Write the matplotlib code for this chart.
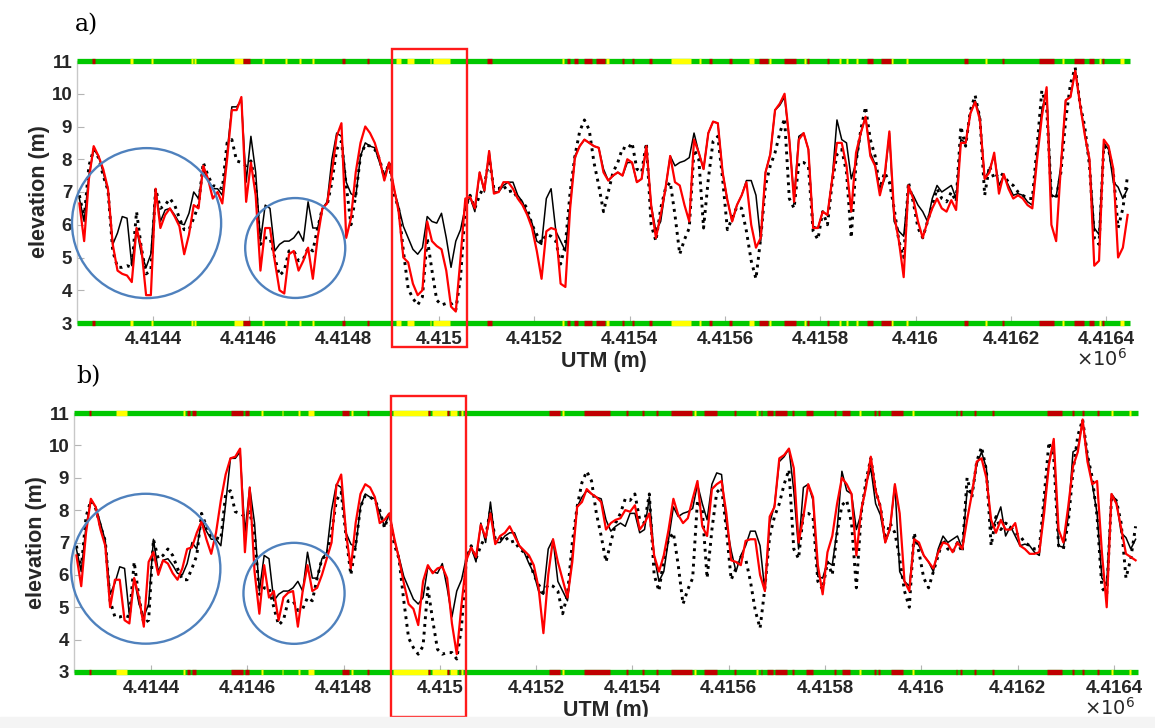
import numpy as np
import matplotlib.pyplot as plt
from matplotlib.patches import Ellipse, Rectangle

plt.rcParams['font.family'] = ['Liberation Sans', 'DejaVu Sans']

# elevation profile sampled every 10 m along the transect (UTM, m)
utm = 4414245 + 10 * np.arange(221)

# dotted reference surface (same in both panels)
reference = [
    6.9, 6.2, 7.8, 8.3, 8.05, 7.5, 7.05, 5.2, 4.7, 4.7,
    4.75, 4.7, 6.4, 5.3, 4.5, 4.6, 7.1, 6.5, 6.6, 6.8,
    6.6, 6.2, 5.85, 5.85, 6.2, 6.6, 7.9, 7.5, 7.2, 7.15,
    7.1, 8.5, 8.6, 7.95, 7.9, 7.8, 7.95, 7.2,
    5.4, 5.6, 5.6, 5.0, 4.45, 4.6, 5.2, 5.2, 4.9, 4.95,
    5.3, 5.2, 5.9, 6.5, 6.6, 7.3, 8.3, 8.55, 7.2, 6.0,
    6.9, 8.1, 8.45, 8.4, 8.3, 8.0, 7.45, 7.9,
    6.95, 6.5, 5.2, 4.05, 3.75, 3.55, 3.8, 5.6, 4.6, 3.7,
    3.55, 3.6, 3.6, 3.4, 4.4, 6.5, 6.9,
    6.5, 6.9, 7.2, 8.0, 7.1, 7.1, 7.2, 7.0, 7.05, 6.8,
    6.7, 6.5, 6.0, 5.7, 5.45, 5.7, 5.65, 5.5, 4.8, 5.4,
    7.0, 8.1, 8.85, 9.2, 8.9, 7.9, 7.2, 6.4,
    7.0, 7.6, 7.9, 8.35, 8.3, 8.5, 7.7, 7.6, 8.5, 6.0,
    5.5, 6.5, 7.1, 7.3, 6.3, 5.1, 5.55, 5.9, 8.3, 8.0,
    5.9, 7.4, 8.55, 8.7, 7.4, 5.85, 6.2, 6.55, 6.5, 5.8,
    4.9, 4.35, 5.6, 7.2, 7.8, 8.2, 8.8,
    9.25, 6.8, 6.5, 7.9, 7.9, 7.8, 5.8, 5.55, 6.4, 6.0,
    7.3, 8.15, 8.3, 7.6, 5.6, 7.9, 8.9, 9.6, 8.6, 8.1,
    7.1, 7.6, 7.3, 6.5, 5.5, 5.0, 7.3, 6.7, 5.9, 5.6,
    6.1, 6.6, 7.1, 6.8, 6.7, 7.0,
    6.7, 9.0, 8.4, 9.5, 9.95, 9.25, 6.9, 7.8, 7.4, 7.6,
    7.5, 7.3, 7.2, 7.0, 6.9, 6.8, 6.8, 8.4, 10.1, 9.6,
    6.9, 6.8, 7.6, 9.2, 10.3, 10.8, 9.7, 9.0, 7.8, 5.6,
    5.4, 8.4, 8.3, 7.6, 5.9, 6.5, 7.5,
]

# solid black estimate (same in both panels)
black = [
    6.8, 6.1, 7.5, 8.3, 8.1, 7.6, 7.05, 5.4, 5.75, 6.25,
    6.2, 4.75, 5.9, 5.1, 4.7, 5.1, 7.1, 6.1, 6.45, 6.5,
    6.3, 6.05, 6.0, 6.35, 7.0, 6.8, 7.7, 7.35, 7.1, 7.1,
    6.9, 8.2, 9.6, 9.6, 9.8, 7.3, 8.7, 7.6,
    5.5, 6.6, 6.5, 5.2, 5.4, 5.5, 5.5, 5.6, 5.8, 5.5,
    6.7, 5.9, 5.9, 6.5, 6.7, 8.0, 8.8, 8.7, 7.3, 6.95,
    6.85, 8.1, 8.5, 8.4, 8.35, 7.9, 7.5, 7.9,
    7.1, 6.55, 5.95, 5.6, 5.25, 5.1, 5.3, 6.25, 6.1, 6.05,
    6.35, 5.6, 4.7, 5.5, 5.85, 6.55, 6.85,
    6.4, 7.6, 7.0, 8.25, 7.0, 7.0, 7.2, 7.3, 7.3, 6.9,
    6.7, 6.35, 6.05, 5.5, 5.4, 6.8, 7.1, 5.8, 5.5, 5.2,
    6.6, 8.1, 8.4, 8.6, 8.5, 8.4, 8.35,
    7.7, 7.35, 7.5, 7.6, 7.5, 7.9, 7.9, 7.3, 7.4, 8.4,
    6.6, 5.8, 6.1, 7.1, 8.1, 7.8, 7.9, 7.95, 8.05, 8.8,
    8.2, 7.7, 8.8, 9.15, 9.1, 7.6, 6.75, 6.1, 6.6, 6.9,
    7.35, 7.35, 6.9, 5.5, 7.6, 8.15, 9.5, 9.65,
    9.9, 8.6, 6.8, 8.7, 8.8, 8.3, 5.95, 5.9, 6.4, 6.3,
    7.4, 9.2, 8.6, 8.5, 7.4, 7.9, 8.8, 9.3, 8.2, 7.85,
    7.0, 7.4, 8.8, 6.1, 5.8, 5.65, 7.1, 6.9, 6.6, 6.4,
    6.1, 6.8, 7.2, 7.0, 7.1, 7.2,
    6.8, 8.6, 8.5, 9.4, 9.8, 9.3, 7.4, 7.7, 8.1, 7.2,
    7.5, 7.2, 6.9, 6.95, 6.9, 6.7, 6.6, 8.2, 9.5, 10.1,
    6.9, 6.85, 7.8, 9.8, 9.9, 10.75, 9.7, 8.8, 7.9, 5.9,
    5.7, 8.5, 8.3, 7.3, 7.15, 6.8, 7.1,
]

# red estimate, panel a
red_a = [
    6.65, 5.5, 7.4, 8.4, 8.1, 7.7, 7.1, 5.4, 4.6, 4.5,
    4.45, 4.25, 5.9, 5.3, 3.85, 3.85, 7.1, 5.9, 6.3, 6.5,
    6.25, 5.95, 5.1, 5.7, 6.6, 6.5, 7.8, 7.4, 6.8, 7.0,
    6.65, 8.0, 9.5, 9.5, 9.9, 6.7, 7.9, 6.9,
    4.6, 5.9, 5.9, 4.9, 4.0, 3.9, 5.1, 5.2, 4.6, 4.9,
    5.3, 4.35, 5.6, 6.5, 6.65, 7.6, 8.7, 9.1, 5.6, 6.2,
    7.6, 8.5, 9.0, 8.8, 8.5, 8.0, 7.35, 7.9,
    7.15, 6.4, 5.0, 4.85, 4.2, 3.85, 4.0, 6.1, 5.5, 5.35,
    5.25, 4.6, 3.5, 3.35, 5.0, 6.8, 6.85,
    6.5, 7.6, 7.05, 8.25, 6.95, 7.0, 7.3, 7.3, 7.1, 6.8,
    6.6, 6.3, 5.9, 5.2, 4.35, 5.8, 5.9, 5.85, 4.2, 4.1,
    6.5, 8.05, 8.4, 8.6, 8.5, 8.4, 8.35, 7.6,
    7.35, 7.5, 7.6, 7.5, 8.0, 7.9, 7.3, 7.4, 8.4, 6.6,
    5.6, 6.3, 7.1, 8.1, 7.3, 7.2, 6.6, 6.1, 8.6, 8.2,
    7.7, 8.8, 9.15, 9.1, 7.6, 6.75, 6.1, 6.6, 6.9, 7.3,
    6.0, 5.3, 5.6, 7.6, 8.15, 9.5, 9.7,
    10.0, 8.6, 6.7, 8.6, 8.8, 8.3, 5.9, 5.9, 6.4, 6.3,
    7.4, 8.5, 8.5, 7.8, 6.4, 8.2, 8.8, 9.3, 8.1, 7.8,
    6.9, 7.5, 8.85, 6.3, 5.5, 4.4, 7.2, 6.8, 6.1, 5.6,
    6.1, 6.5, 6.8, 6.5, 6.4, 6.75,
    6.45, 8.5, 8.5, 9.4, 9.75, 9.2, 7.4, 7.6, 8.2, 6.95,
    7.55, 7.1, 6.8, 6.9, 6.8, 6.6, 6.5, 8.0, 9.3, 10.2,
    6.0, 5.5, 7.8, 9.8, 9.9, 10.7, 9.7, 8.75, 8.0, 4.75,
    4.9, 8.6, 8.4, 7.7, 5.0, 5.3, 6.3,
]

# red estimate, panel b
red_b = [
    6.6, 5.65, 7.3, 8.35, 8.1, 7.4, 6.9, 5.0, 5.85, 5.85,
    4.6, 4.5, 5.9, 5.3, 4.4, 6.4, 6.7, 6.0, 6.45, 6.35,
    6.05, 5.85, 6.2, 6.8, 6.85, 7.3, 7.65, 7.1, 6.65, 7.3,
    8.3, 9.1, 9.6, 9.65, 9.9, 6.7, 8.7, 6.1, 4.8, 6.3,
    5.3, 5.5, 4.6, 5.3, 5.45, 5.5, 4.4, 5.5, 6.3, 5.5,
    5.6, 6.0, 6.5, 7.0, 8.75, 9.1, 7.3, 6.2, 7.6, 8.5,
    8.8, 8.7, 8.4, 7.6,
    7.7, 7.9, 7.15, 6.5, 5.75, 5.1, 4.95, 4.45, 5.8, 6.3,
    6.05, 6.2, 6.25, 5.9, 4.5, 3.55, 5.1, 6.45, 6.85, 6.55,
    7.55, 7.15, 7.9, 6.95, 7.2, 7.3, 7.5, 7.2, 6.9, 6.75,
    6.6, 6.3, 5.6, 4.2, 6.0, 7.1, 6.4, 5.85, 5.3, 6.4,
    8.1, 8.25, 8.65, 8.5, 8.4, 8.25, 7.4, 7.6, 7.7, 7.75,
    8.0, 7.95, 8.15, 7.4, 7.6, 7.9, 6.6, 6.1, 6.6, 7.4,
    8.35, 7.85, 7.6, 7.75, 8.35, 8.9, 7.5, 7.2, 8.65, 8.8,
    8.9, 7.9, 6.45, 6.4, 6.3, 7.05, 7.1, 7.1, 6.0, 5.5,
    7.8, 8.1, 9.6,
    9.7, 9.9, 9.3, 7.0, 7.8, 8.8, 8.4, 6.3, 5.4, 6.7,
    7.2, 8.2, 9.0, 8.8, 8.5, 6.6, 8.0, 8.7, 9.65, 8.6,
    8.1, 7.0, 7.45, 8.8, 7.9, 5.8, 5.5, 7.1, 7.0, 6.6,
    6.4, 6.2, 6.7, 7.0, 6.95, 6.7, 7.0, 6.8, 7.7, 8.5,
    9.5, 9.6, 9.0, 7.7, 7.3, 7.7, 7.4, 7.4, 7.6, 6.9,
    6.8, 6.65, 6.65, 6.7, 7.9, 9.4, 10.2, 7.4, 7.0, 8.1,
    9.35, 9.8, 10.8, 9.5, 8.8, 8.9, 6.7, 5.0, 8.5, 8.2,
    7.45, 6.65, 6.55, 6.45,
]

xticks = [4414400, 4414600, 4414800, 4415000, 4415200, 4415400,
          4415600, 4415800, 4416000, 4416200, 4416400]
xticklabels = ['4.4144', '4.4146', '4.4148', '4.415', '4.4152', '4.4154',
               '4.4156', '4.4158', '4.416', '4.4162', '4.4164']
yticks = [3, 4, 5, 6, 7, 8, 9, 10, 11]

# quality flags along the transect (start, end in UTM m)
yellow_a = [(4414352, 4414357), (4414395, 4414400), (4414479, 4414484),
            (4414486, 4414490), (4414570, 4414588), (4414629, 4414633),
            (4414677, 4414681), (4414706, 4414710), (4414734, 4414738),
            (4414910, 4414920), (4414933, 4414947), (4414980, 4414983),
            (4414987, 4415023), (4415258, 4415262), (4415351, 4415356),
            (4415487, 4415528), (4415546, 4415550), (4415651, 4415660),
            (4415692, 4415696), (4415766, 4415770), (4415840, 4415844),
            (4415854, 4415858), (4415875, 4415879), (4415949, 4415953),
            (4415980, 4415984), (4416146, 4416150), (4416308, 4416312),
            (4416385, 4416389), (4416428, 4416437)]
flagred_a = [(4414272, 4414277), (4414589, 4414604), (4414797, 4414802),
             (4414849, 4414853), (4415101, 4415112), (4415268, 4415275),
             (4415284, 4415292), (4415305, 4415320), (4415330, 4415348),
             (4415384, 4415389), (4415405, 4415410), (4415441, 4415446),
             (4415567, 4415572), (4415609, 4415614), (4415672, 4415690),
             (4415724, 4415748), (4415773, 4415777), (4415815, 4415819),
             (4415898, 4415910), (4415928, 4415948), (4416102, 4416111),
             (4416182, 4416186), (4416259, 4416290), (4416333, 4416353),
             (4416364, 4416374), (4416392, 4416396)]
yellow_b = [(4414328, 4414351), (4414467, 4414471), (4414629, 4414633),
            (4414671, 4414675), (4414706, 4414710), (4414725, 4414739),
            (4414816, 4414820), (4414902, 4414975), (4414983, 4415014),
            (4415022, 4415036), (4415044, 4415048), (4415253, 4415257),
            (4415527, 4415531), (4415656, 4415660), (4415870, 4415874),
            (4415980, 4415984), (4416394, 4416398), (4416431, 4416436)]
flagred_b = [(4414271, 4414276), (4414474, 4414480), (4414485, 4414494),
             (4414566, 4414590), (4414596, 4414604), (4414796, 4414812),
             (4414848, 4414852), (4414976, 4414980), (4415015, 4415018),
             (4415039, 4415042), (4415226, 4415250), (4415300, 4415354),
             (4415386, 4415390), (4415419, 4415423), (4415448, 4415452),
             (4415481, 4415524), (4415548, 4415576), (4415610, 4415614),
             (4415666, 4415670), (4415679, 4415692), (4415697, 4415720),
             (4415731, 4415735), (4415760, 4415775), (4415818, 4415822),
             (4415835, 4415852), (4415901, 4415905), (4415911, 4415915),
             (4415936, 4415962), (4416071, 4416075), (4416081, 4416085),
             (4416109, 4416113), (4416146, 4416150), (4416261, 4416293),
             (4416313, 4416317), (4416334, 4416338), (4416365, 4416369)]

XMIN, XMAX = 4414240, 4416450
GREEN, YELLOW, DARKRED = '#00c800', '#ffff00', '#c00000'
CIRCLE, BOX = '#4f81bd', '#ff1a1a'


def flag_strip(ax, y, yellow, flagred):
    kw = dict(lw=3.8, capstyle='butt', clip_on=False, zorder=5)
    ax.hlines(y, XMIN, XMAX, colors=GREEN, **kw)
    for segs, col in ((yellow, YELLOW), (flagred, DARKRED)):
        ax.hlines([y] * len(segs), [s for s, e in segs], [e for s, e in segs],
                  colors=col, **kw)


def draw_panel(ax, red, yellow, flagred, circles, box):
    ax.plot(utm, reference, color='black', ls=':', lw=2.1, zorder=2)
    ax.plot(utm, black, color='black', lw=1.1, zorder=3)
    ax.plot(utm, red, color='red', lw=1.6, zorder=4)
    ax.set_xlim(XMIN, XMAX)
    ax.set_ylim(3, 11)
    for y in (3, 11):
        flag_strip(ax, y, yellow, flagred)

    for s in ('top', 'right', 'bottom'):
        ax.spines[s].set_visible(False)
    ax.spines['left'].set_color('#c8c8c8')
    ax.spines['left'].set_linewidth(1.0)

    ax.set_xticks(xticks)
    ax.set_xticklabels(xticklabels, fontweight='bold')
    ax.set_yticks(yticks)
    ax.set_yticklabels([str(t) for t in yticks], fontweight='bold')
    ax.tick_params(direction='in', length=5, width=0.8, color='#b4b4b4',
                   labelsize=13.5, labelcolor='#262626')
    ax.tick_params(axis='x', pad=6)
    ax.tick_params(axis='y', pad=3.5)
    ax.set_xlabel('UTM (m)', fontsize=15.5, fontweight='bold',
                  color='#262626', labelpad=2)
    ax.set_ylabel('elevation (m)', fontsize=15.5, fontweight='bold',
                  color='#262626', labelpad=1)
    ax.text(0.997, -0.095, r'$\times10^{6}$', transform=ax.transAxes,
            ha='right', va='top', fontsize=14, color='#262626')

    for cx, cy, w, h in circles:
        ax.add_patch(Ellipse((cx, cy), w, h, fill=False, ec=CIRCLE, lw=1.7,
                             clip_on=False, zorder=6))
    x0, y0, w, h = box
    ax.add_patch(Rectangle((x0, y0), w, h, fill=False, ec=BOX, lw=1.7,
                           clip_on=False, zorder=6))


fig = plt.figure(figsize=(11.55, 7.28), dpi=100)
fig.patches.append(Rectangle((0, 0), 1, 11 / 728, transform=fig.transFigure,
                             color='#f4f4f4', zorder=0))

ax_a = fig.add_axes([77 / 1155, 1 - 323 / 728, 1053 / 1155, 262 / 728])
ax_b = fig.add_axes([74 / 1155, 1 - 672 / 728, 1064 / 1155, 259 / 728])

draw_panel(ax_a, red_a, yellow_a, flagred_a,
           [(4414386, 6.05, 313, 4.58), (4414698, 5.29, 210, 3.05)],
           (4414902, 2.27, 157, 9.10))
draw_panel(ax_b, red_b, yellow_b, flagred_b,
           [(4414389, 6.19, 310, 4.63), (4414697, 5.43, 210, 3.12)],
           (4414899, 1.62, 156, 9.90))

fig.text(75 / 1155, 1 - 31 / 728, 'a)', family='DejaVu Serif', fontsize=17)
fig.text(76 / 1155, 1 - 383 / 728, 'b)', family='DejaVu Serif', fontsize=17)

fig.savefig('out.png', dpi=100)
